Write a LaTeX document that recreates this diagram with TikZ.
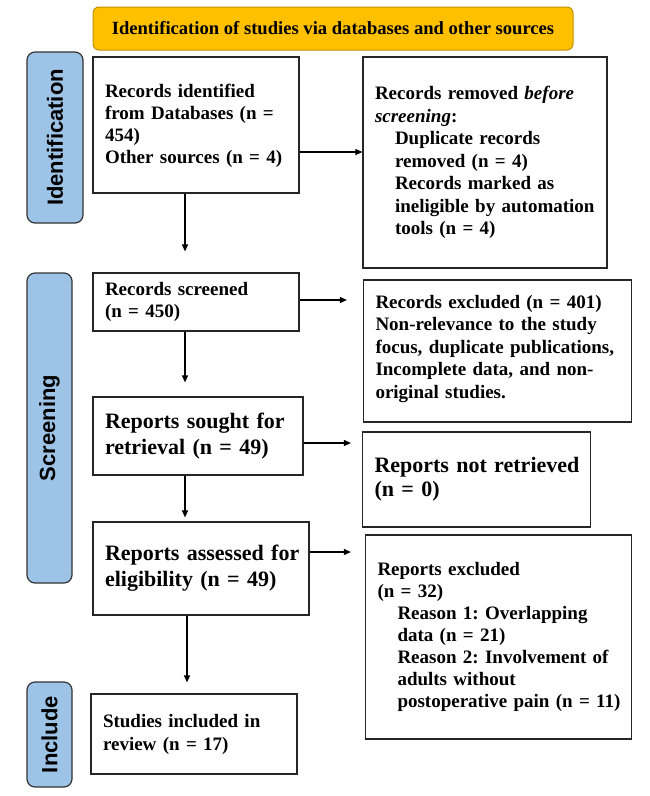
\documentclass[tikz,border=0pt]{standalone}
\usepackage{fontspec}
\setmainfont{Liberation Serif}
\newfontfamily\labfont{Liberation Sans Bold}
\usetikzlibrary{arrows.meta}
\definecolor{titlefill}{HTML}{FFC000}
\definecolor{titledraw}{HTML}{C09000}
\definecolor{stagefill}{HTML}{9DC3E6}
\frenchspacing
\begin{document}
\begin{tikzpicture}[x=1pt,y=-1pt,
  box/.style={draw=black!85, line width=1.2pt, fill=white, inner xsep=12pt, inner ysep=0pt,
    align=left, font=\bfseries\fontsize{19}{22}\selectfont},
  bigbox/.style={box, font=\bfseries\fontsize{22}{26}\selectfont},
  stage/.style={draw=black!80, line width=1.2pt, fill=stagefill, rounded corners=8pt,
    inner sep=0pt, rotate=90, font=\labfont\fontsize{22}{22}\selectfont},
  arr/.style={-{Triangle[length=7pt,width=6pt]}, line width=1.1pt, draw=black}
]
\useasboundingbox (0,0) rectangle (650,796);

\node[draw=titledraw, line width=1pt, fill=titlefill, rounded corners=6pt,
  minimum width=480pt, minimum height=43pt, inner sep=0pt,
  font=\bfseries\fontsize{18.6}{20}\selectfont] (title) at (333,28.5)
  {Identification of studies via databases and other sources};

\node[stage, minimum width=171pt, minimum height=56pt] (idlab) at (55,137.5) {Identification};
\node[stage, minimum width=310pt, minimum height=45pt] (scrlab) at (49.5,428) {Screening};
\node[stage, minimum width=105pt, minimum height=45pt] (inclab) at (49.5,734.5) {Include};

\node[box, minimum width=206pt, minimum height=136pt, text width=182pt] (b1) at (196,125)
  {\\[-6pt]Records identified\\from Databases (n =\\454)\\Other sources (n = 4)};
\node[box, minimum width=244pt, minimum height=211pt, text width=220pt,
  font=\bfseries\fontsize{19}{22.5}\selectfont] (b2) at (485,162.5)
  {Records removed \textit{before}\\\textit{screening}:\\
   \hspace*{20pt}Duplicate records\\\hspace*{20pt}removed (n = 4)\\
   \hspace*{20pt}Records marked as\\\hspace*{20pt}\mbox{ineligible by automation}\\
   \hspace*{20pt}tools (n = 4)\\[-2pt]};
\node[box, minimum width=206pt, minimum height=58pt, text width=182pt] (b3) at (196,302)
  {Records screened\\(n = 450)};
\node[box, minimum width=267pt, minimum height=142pt, text width=244pt,
  font=\bfseries\fontsize{19}{22.5}\selectfont] (b4) at (497.5,351)
  {\\[-14pt]Records excluded (n = 401)\\Non-relevance to the study\\\mbox{focus, duplicate publications,}\\
   Incomplete data, and non-\\original studies.};
\node[bigbox, minimum width=210pt, minimum height=78pt, text width=186pt] (b5) at (198,436)
  {Reports sought for\\retrieval (n = 49)};
\node[bigbox, minimum width=227pt, minimum height=95pt, text width=204pt,
  font=\bfseries\fontsize{22}{24}\selectfont] (b6) at (476.5,479.5)
  {\mbox{Reports not retrieved}\\(n = 0)};
\node[bigbox, minimum width=216pt, minimum height=93pt, text width=192pt] (b7) at (201,568.5)
  {\mbox{Reports assessed for}\\eligibility (n = 49)};
\node[box, minimum width=265pt, minimum height=204pt, text width=242pt] (b8) at (498.5,637)
  {Reports excluded\\(n = 32)\\
   \hspace*{20pt}Reason 1: Overlapping\\\hspace*{20pt}data (n = 21)\\
   \hspace*{20pt}Reason 2: Involvement of\\\hspace*{20pt}adults without\\
   \hspace*{20pt}\mbox{postoperative pain (n = 11)}};
\node[box, minimum width=206pt, minimum height=80pt, text width=182pt,
  font=\bfseries\fontsize{19}{23}\selectfont] (b9) at (194,734)
  {Studies included in\\review (n = 17)\\[2pt]};

\draw[arr] ([yshift=-27pt]b1.east) -- ([yshift=-27pt]b1.east -| b2.west);
\draw[arr, shorten >=21pt] ([xshift=-11pt]b1.south) -- ([xshift=-11pt]b1.south |- b3.north);
\draw[arr, shorten >=16pt] ([yshift=2pt]b3.east) -- ([yshift=2pt]b3.east -| b4.west);
\draw[arr, shorten >=14pt] ([xshift=-11pt]b3.south) -- ([xshift=-11pt]b3.south |- b5.north);
\draw[arr, shorten >=11pt] ([yshift=-7pt]b5.east) -- ([yshift=-7pt]b5.east -| b6.west);
\draw[arr, shorten >=4pt] ([xshift=-13pt]b5.south) -- ([xshift=-13pt]b5.south |- b7.north);
\draw[arr, shorten >=14pt] ([yshift=16.5pt]b7.east) -- ([yshift=16.5pt]b7.east -| b8.west);
\draw[arr, shorten >=11pt] ([xshift=-14pt]b7.south) -- ([xshift=-14pt]b7.south |- b9.north);
\end{tikzpicture}
\end{document}
